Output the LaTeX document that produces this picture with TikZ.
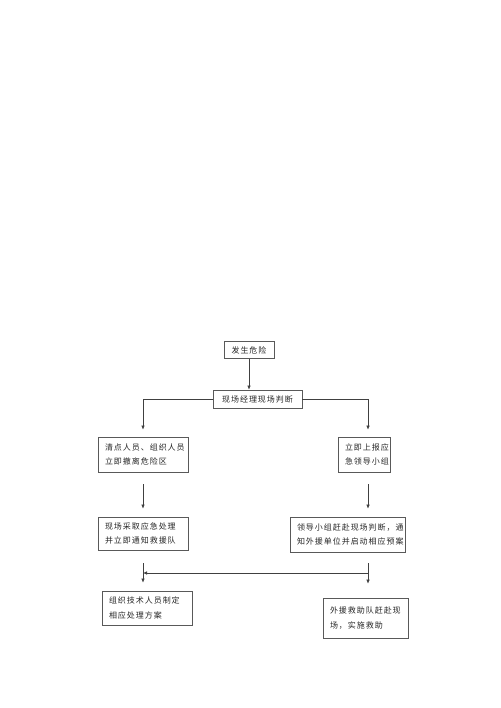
\documentclass[tikz,border=0pt]{standalone}
\usepackage{fontspec}
\newfontfamily\cjk[LetterSpace=12]{Noto Sans CJK SC}
\usetikzlibrary{arrows.meta}

\tikzset{
  box/.style={draw=black!65, line width=0.7pt, inner xsep=7pt, inner ysep=0pt,
    font=\cjk\fontsize{8}{14.5}\selectfont, text=black!85},
  arr/.style={draw=black!75, line width=0.6pt, -{Latex[length=4pt,width=3.5pt]}}
}

\begin{document}
\begin{tikzpicture}[x=1pt, y=-1pt]
  \useasboundingbox (0,0) rectangle (500,708);

  % boxes
  \node[box, minimum width=50, minimum height=17] (risk) at (249,350) {发生危险};
  \node[box, minimum width=89, minimum height=18] (judge) at (257.5,399) {现场经理现场判断};
  \node[box, text width=76, minimum height=35, align=left] (evac) at (143,454.5)
    {清点人员、组织人员\\立即撤离危险区};
  \node[box, text width=38, minimum height=35, align=left] (report) at (364,454.5)
    {立即上报应\\急领导小组};
  \node[box, text width=76, minimum height=33, align=left] (handle) at (143,533.5)
    {现场采取应急处理\\并立即通知救援队};
  \node[box, text width=101, minimum height=35, align=left] (lead) at (347.5,534.5)
    {领导小组赶赴现场判断，通\\知外援单位并启动相应预案};
  \node[box, text width=76, minimum height=34, align=left] (plan) at (147,608)
    {组织技术人员制定\\相应处理方案};
  \node[box, text width=71, minimum height=40, align=left] (rescue) at (365.5,618)
    {外援救助队赶赴现\\场，实施救助};

  % columns of the arrows
  \coordinate (colL) at (143,0);
  \coordinate (colR) at (368,0);
  \coordinate (split) at (368,573);

  % arrows
  \draw[arr] (risk.south) -- (risk.south |- judge.north);
  \draw[arr] (judge.west) -| ([yshift=7]evac.north -| colL);
  \draw[arr] (judge.east) -| ([yshift=7]report.north -| colR);
  \draw[arr] ([yshift=-12]evac.south -| colL) -- ([yshift=8]handle.north -| colL);
  \draw[arr] ([yshift=-12]report.south -| colR) -- ([yshift=8]lead.north -| colR);
  \draw[arr] ([yshift=-13]handle.south -| colL) -- ([yshift=8]plan.north -| colL);
  \draw[arr] ([yshift=-11]lead.south -| colR) -- ([yshift=14]rescue.north -| colR);
  \draw[arr] (split) -- (split -| colL);
\end{tikzpicture}
\end{document}
